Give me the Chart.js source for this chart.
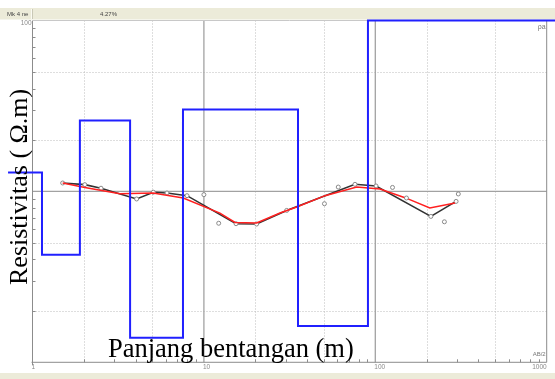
<!DOCTYPE html>
<html>
<head>
<meta charset="utf-8">
<script src="https://cdn.jsdelivr.net/npm/chart.js@4/dist/chart.umd.min.js"></script>
<style>
  html, body { margin: 0; padding: 0; background: #fff; }
  #wrap { position: relative; width: 555px; height: 379px; }
  canvas { display: block; }
</style>
</head>
<body>
<div id="wrap"><canvas id="c" width="555" height="379"></canvas></div>
<script>
// Layered model: resistivity of each layer and the AB/2 where each layer ends
const layerRho = [12.9, 4.26, 26.0, 1.39, 30.1, 1.63, 100];
const layerEnd = [1.136, 1.89, 3.71, 7.55, 35.4, 90.6];
const modelFrom = 0.72;
const modelTo = 1300;

// Field sounding curve (black, with data circles)
const fieldAB2 = [1.50, 2.02, 2.51, 4.05, 5.07, 6.09, 7.97, 15.4, 20.3, 30.4, 76.1, 101, 211, 296];
const fieldRho = [11.2, 10.95, 10.44, 9.03, 9.89, 9.79, 9.44, 6.47, 6.44, 7.74, 11.0, 10.76, 7.14, 8.74];

const rawAB2 = [10.0, 12.2, 50.5, 60.8, 126, 152, 253, 305];
const rawRho = [9.57, 6.51, 8.47, 10.6, 10.55, 9.15, 6.64, 9.66];

// Calculated model response (red)
const calcAB2 = [1.50, 2.02, 3.24, 5.05, 7.58, 12.4, 15.2, 20.3, 27.8, 34.8, 50.9, 77.9, 106.5, 149, 208, 292];
const calcRho = [11.2, 10.55, 9.69, 9.79, 9.15, 7.47, 6.58, 6.53, 7.47, 8.10, 9.44, 10.6, 10.33, 9.19, 7.99, 8.55];

// Axis ranges, grid and tick labels
const xRange = [1, 1000];
const yRange = [1, 100];
const xDotted = [2, 5, 20, 50, 200, 500];
const yDotted = [2, 5, 20, 50];
const xSolid = [10, 100];
const ySolid = [10];
const xTickValues = [1, 10, 100, 1000];
const xTickLabels = ['1', '10', '100', '1000'];
const yTickValues = [100];
const yTickLabels = ['100'];

const xTitle = 'Panjang bentangan (m)';
const yTitle = 'Resistivitas ( \u03A9.m)';

// Build step points of the model curve
const modelPts = [{ x: modelFrom, y: layerRho[0] }];
layerEnd.forEach((d, i) => {
  modelPts.push({ x: d, y: layerRho[i] });
  modelPts.push({ x: d, y: layerRho[i + 1] });
});
modelPts.push({ x: modelTo, y: layerRho[layerRho.length - 1] });

const pts = (xs, ys) => xs.map((x, i) => ({ x, y: ys[i] }));

const framePlugin = {
  id: 'sondeFrame',
  beforeDraw(chart) {
    const ctx = chart.ctx;
    ctx.save();
    ctx.fillStyle = '#ffffff';
    ctx.fillRect(0, 0, chart.width, chart.height);
    // header strip
    ctx.fillStyle = '#ecebd9';
    ctx.fillRect(0, 8, chart.width, 11.5);
    ctx.strokeStyle = '#fbfbf3';
    ctx.beginPath(); ctx.moveTo(31.5, 9); ctx.lineTo(31.5, 19); ctx.stroke();
    ctx.strokeStyle = '#c9c8b6';
    ctx.beginPath(); ctx.moveTo(32.5, 9); ctx.lineTo(32.5, 19); ctx.stroke();
    ctx.fillStyle = '#444';
    ctx.font = '6px "Liberation Sans", Arial, sans-serif';
    ctx.textBaseline = 'middle';
    ctx.textAlign = 'left';
    ctx.fillText('Mk 4 ne', 7, 14);
    ctx.fillText('4.27%', 100, 14);
    // footer strip
    ctx.fillStyle = '#ecebd9';
    ctx.fillRect(0, 373, chart.width, 6);
    ctx.restore();
  },
  beforeDatasetsDraw(chart) {
    const { ctx, chartArea: a, scales: { x, y } } = chart;
    const vline = (px) => { ctx.beginPath(); ctx.moveTo(px, a.top); ctx.lineTo(px, a.bottom); ctx.stroke(); };
    const hline = (py) => { ctx.beginPath(); ctx.moveTo(a.left, py); ctx.lineTo(a.right, py); ctx.stroke(); };
    ctx.save();
    ctx.lineWidth = 1;
    // dotted grid
    ctx.strokeStyle = '#bcbcbc';
    ctx.setLineDash([1, 2]);
    xDotted.forEach(v => vline(Math.round(x.getPixelForValue(v)) + 0.5));
    yDotted.forEach(v => hline(Math.round(y.getPixelForValue(v)) + 0.5));
    ctx.setLineDash([]);
    // decade lines
    ctx.strokeStyle = '#a2a2a2';
    ctx.lineWidth = 1.3;
    xSolid.forEach(v => vline(x.getPixelForValue(v)));
    ySolid.forEach(v => hline(y.getPixelForValue(v)));
    // frame
    ctx.lineWidth = 1;
    ctx.strokeStyle = '#8c8c8c';
    ctx.beginPath();
    ctx.moveTo(a.left, a.top); ctx.lineTo(a.left, a.bottom + 3);
    ctx.moveTo(a.left - 1, a.bottom); ctx.lineTo(a.right, a.bottom);
    ctx.moveTo(a.right, a.top); ctx.lineTo(a.right, a.bottom);
    ctx.stroke();
    ctx.strokeStyle = '#c8c8c8';
    ctx.beginPath(); ctx.moveTo(a.left, a.top); ctx.lineTo(a.right, a.top); ctx.stroke();
    // minor ticks
    ctx.strokeStyle = '#8c8c8c';
    ctx.beginPath();
    for (let dec = 1; dec < 1000; dec *= 10) {
      for (let k = 2; k <= 9; k++) {
        const v = dec * k;
        if (v < yRange[1]) {
          const py = Math.round(y.getPixelForValue(v)) + 0.5;
          ctx.moveTo(a.left, py); ctx.lineTo(a.left + 3, py);
        }
        if (v < xRange[1]) {
          const px = Math.round(x.getPixelForValue(v)) + 0.5;
          ctx.moveTo(px, a.bottom); ctx.lineTo(px, a.bottom - 3);
        }
      }
    }
    ctx.stroke();
    ctx.restore();
  },
  afterDraw(chart) {
    const { ctx, chartArea: a, scales: { x, y } } = chart;
    ctx.save();
    // small tick labels
    ctx.fillStyle = '#8a8a8a';
    ctx.font = '6.5px "Liberation Sans", Arial, sans-serif';
    ctx.textBaseline = 'top';
    xTickValues.forEach((v, i) => {
      const px = x.getPixelForValue(v);
      ctx.textAlign = (v === xRange[1]) ? 'right' : 'left';
      ctx.fillText(xTickLabels[i], (v === xRange[1]) ? px : px - 1, a.bottom + 2);
    });
    ctx.textAlign = 'right';
    ctx.textBaseline = 'middle';
    yTickValues.forEach((v, i) => {
      ctx.fillText(yTickLabels[i], a.left - 1, y.getPixelForValue(v) + 3);
    });
    ctx.fillStyle = '#777';
    ctx.font = '7px "Liberation Sans", Arial, sans-serif';
    ctx.fillText('\u03C1a', a.right - 1, a.top + 7);
    ctx.font = '6px "Liberation Sans", Arial, sans-serif';
    ctx.fillText('AB/2', a.right - 1, a.bottom - 8);
    // axis titles
    ctx.fillStyle = '#000';
    ctx.font = '26.5px "Liberation Serif", "Times New Roman", serif';
    ctx.textAlign = 'left';
    ctx.textBaseline = 'alphabetic';
    ctx.fillText(xTitle, 108, 357);
    ctx.font = '26px "Liberation Serif", "Times New Roman", serif';
    ctx.translate(27, 285);
    ctx.rotate(-Math.PI / 2);
    ctx.fillText(yTitle, 0, 0);
    ctx.restore();
  }
};

new Chart(document.getElementById('c'), {
  type: 'scatter',
  data: {
    datasets: [
      { label: 'Model', data: modelPts, showLine: true, borderColor: '#2020ff', borderWidth: 2,
        pointRadius: 0, tension: 0, clip: false, order: 0 },
      { label: 'Raw', data: pts(rawAB2, rawRho), showLine: false, pointRadius: 2,
        pointBorderColor: '#8a8a8a', pointBackgroundColor: '#ffffff', pointBorderWidth: 1, order: 1 },
      { label: 'Calculated', data: pts(calcAB2, calcRho), showLine: true, borderColor: '#ff2020',
        borderWidth: 1.5, pointRadius: 0, tension: 0, order: 2 },
      { label: 'Field', data: pts(fieldAB2, fieldRho), showLine: true, borderColor: '#333333',
        borderWidth: 1.6, pointRadius: 2, pointBorderColor: '#8a8a8a', pointBackgroundColor: '#ffffff',
        pointBorderWidth: 1, tension: 0, order: 3 }
    ]
  },
  options: {
    responsive: false,
    animation: false,
    devicePixelRatio: 1,
    events: [],
    layout: { padding: { left: 32.5, top: 20.5, right: 8.3, bottom: 16.7 } },
    plugins: { legend: { display: false }, tooltip: { enabled: false } },
    scales: {
      x: { type: 'logarithmic', min: xRange[0], max: xRange[1], display: false },
      y: { type: 'logarithmic', min: yRange[0], max: yRange[1], display: false }
    }
  },
  plugins: [framePlugin]
});
</script>
</body>
</html>
